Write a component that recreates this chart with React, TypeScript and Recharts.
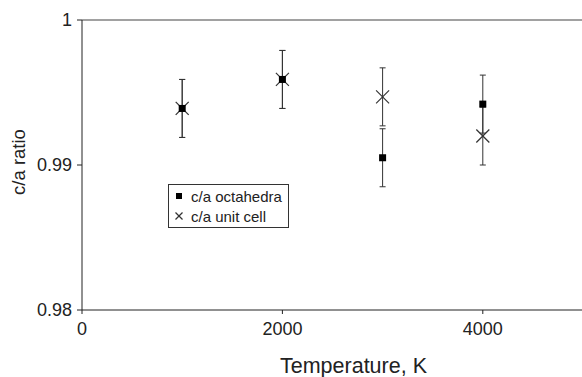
import React from "react";
import {
  ScatterChart,
  Scatter,
  XAxis,
  YAxis,
  ErrorBar,
  ReferenceLine,
} from "recharts";

const temperatures = [1000, 2000, 3000, 4000];
const octahedra = [0.9939, 0.9959, 0.9905, 0.9942];
const octahedraErr = [0.002, 0.002, 0.002, 0.002];
const unitCell = [0.9939, 0.9959, 0.9947, 0.992];
const unitCellErr = [0.002, 0.002, 0.002, 0.002];
const xTicks = [0, 2000, 4000];
const yTicks = [0.98, 0.99, 1];

const octData = temperatures.map((t, i) => ({ t, v: octahedra[i], err: octahedraErr[i] }));
const cellData = temperatures.map((t, i) => ({ t, v: unitCell[i], err: unitCellErr[i] }));

const FONT = "'Liberation Sans', Arial, Helvetica, sans-serif";
const INK = "#222222";

const SquareDot = (props: any) => {
  const { cx, cy } = props;
  if (cx == null || cy == null) return null;
  return <rect x={cx - 3.5} y={cy - 3.5} width={7} height={7} fill="#000000" />;
};

const CrossDot = (props: any) => {
  const { cx, cy } = props;
  if (cx == null || cy == null) return null;
  const r = 6.5;
  return (
    <g stroke="#333333" strokeWidth={1.2}>
      <line x1={cx - r} y1={cy - r} x2={cx + r} y2={cy + r} />
      <line x1={cx - r} y1={cy + r} x2={cx + r} y2={cy - r} />
    </g>
  );
};

// legend box sits over the plot, like the original
function LegendBox() {
  const row: React.CSSProperties = {
    display: "flex",
    alignItems: "center",
    height: 20,
    fontSize: 15,
    color: INK,
    fontFamily: FONT,
    whiteSpace: "nowrap",
  };
  return (
    <div
      style={{
        position: "absolute",
        left: 168,
        top: 184,
        border: "1px solid #333",
        background: "#fff",
        width: 119,
        padding: "1px 0",
      }}
    >
      <div style={row}>
        <svg width={22} height={20}>
          <rect x={7} y={7} width={6} height={6} fill="#000" />
        </svg>
        <span>c/a octahedra</span>
      </div>
      <div style={row}>
        <svg width={22} height={20}>
          <g stroke="#333" strokeWidth={1.2}>
            <line x1={6.5} y1={6.5} x2={13.5} y2={13.5} />
            <line x1={6.5} y1={13.5} x2={13.5} y2={6.5} />
          </g>
        </svg>
        <span>c/a unit cell</span>
      </div>
    </div>
  );
}

export default function App() {
  return (
    <div
      style={{
        position: "fixed",
        left: 0,
        top: 0,
        width: 582,
        height: 377,
        overflow: "hidden",
        background: "#fff",
      }}
    >
      <ScatterChart
        width={600}
        height={377}
        margin={{ top: 20, right: 17, bottom: 0, left: 0 }}
        style={{ fontFamily: FONT }}
      >
        <XAxis
          type="number"
          dataKey="t"
          domain={[0, 5000]}
          ticks={xTicks}
          height={67}
          stroke={INK}
          tickSize={4}
          tickMargin={8}
          tick={{ fill: INK, fontSize: 18 }}
          label={{
            value: "Temperature, K",
            position: "insideBottom",
            offset: 4,
            dx: 21,
            style: { fill: INK, fontSize: 21.5, fontFamily: FONT },
          }}
        />
        <YAxis
          type="number"
          dataKey="v"
          domain={[0.98, 1]}
          ticks={yTicks}
          width={82}
          stroke={INK}
          tickSize={5}
          tickMargin={5}
          tick={{ fill: INK, fontSize: 18 }}
          label={{
            value: "c/a ratio",
            angle: -90,
            position: "insideLeft",
            offset: 18,
            dy: -3,
            style: { textAnchor: "middle", fill: INK, fontSize: 18.5, fontFamily: FONT },
          }}
        />
        <ReferenceLine y={1} stroke="#444" strokeWidth={1.2} />
        <Scatter
          name="c/a unit cell"
          data={cellData}
          shape={CrossDot}
          isAnimationActive={false}
        >
          <ErrorBar dataKey="err" direction="y" width={3} stroke="#333" strokeWidth={1} />
        </Scatter>
        <Scatter
          name="c/a octahedra"
          data={octData}
          shape={SquareDot}
          isAnimationActive={false}
        >
          <ErrorBar dataKey="err" direction="y" width={3} stroke="#333" strokeWidth={1} />
        </Scatter>
      </ScatterChart>
      <LegendBox />
    </div>
  );
}
